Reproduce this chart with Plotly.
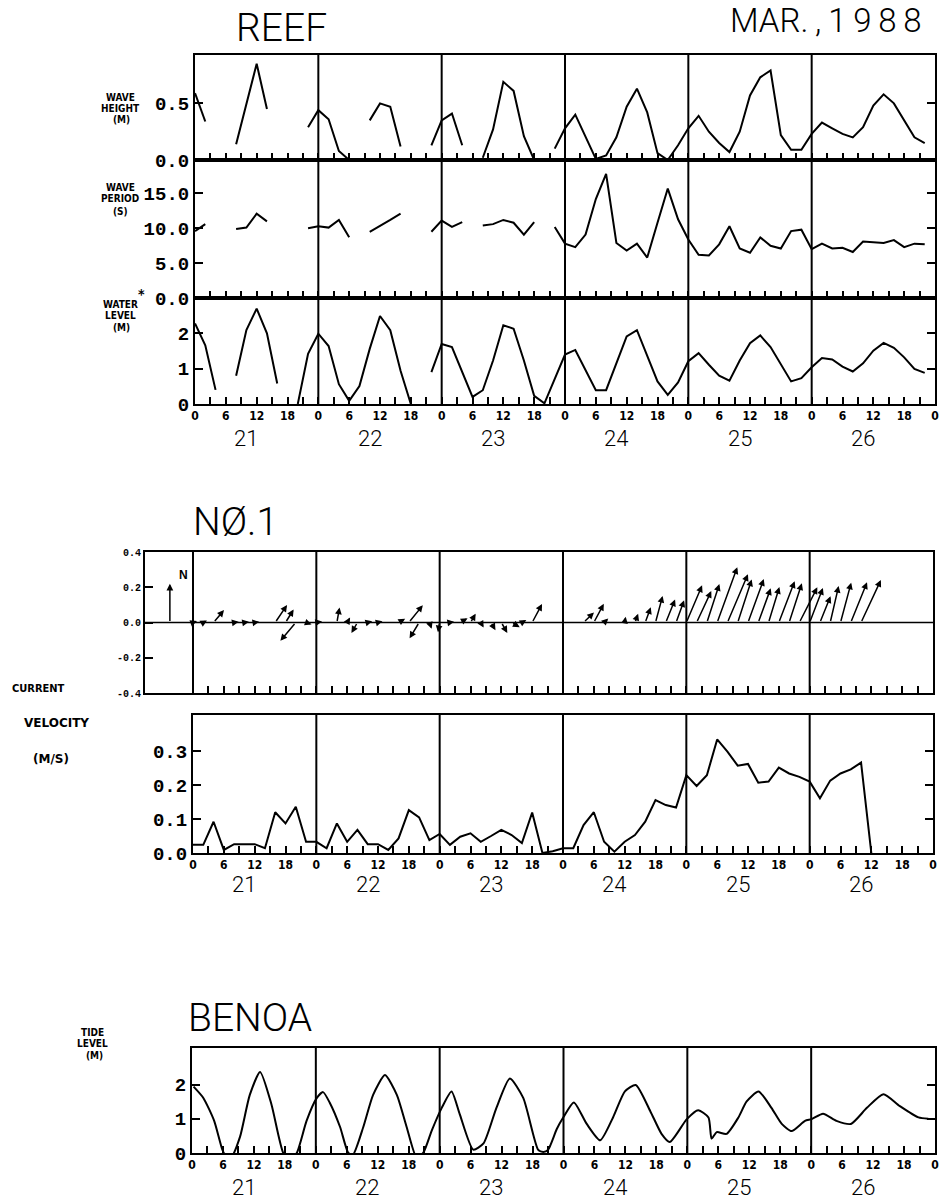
import math
import plotly.graph_objects as go

W, H = 942, 1202

# ---------------- data ----------------
hours = list(range(0, 144, 2))  # 2-hourly, 0..142 h from 21 Mar 00h

wave_height = [0.59, 0.34, None, None, 0.14, 0.50, 0.85, 0.45, None, None, None, 0.29,
               0.44, 0.36, 0.08, 0.00, None, 0.35, 0.50, 0.47, 0.12, None, None, 0.13,
               0.35, 0.41, 0.13, None, 0.02, 0.27, 0.69, 0.61, 0.21, 0.00, None, 0.10,
               0.28, 0.40, 0.20, 0.01, 0.04, 0.20, 0.47, 0.63, 0.42, 0.06, 0.00, 0.13,
               0.28, 0.39, 0.25, 0.15, 0.07, 0.25, 0.57, 0.73, 0.79, 0.22, 0.09, 0.09,
               0.23, 0.33, 0.28, 0.23, 0.20, 0.29, 0.48, 0.58, 0.50, 0.35, 0.20, 0.15]

wave_period = [9.6, 10.6, None, None, 9.9, 10.1, 12.1, 11.0, None, None, None, 10.0,
               10.3, 10.1, 11.2, 8.7, None, 9.5, 10.3, 11.2, 12.1, None, None, 9.5,
               11.1, 10.2, 10.9, None, 10.4, 10.6, 11.2, 10.8, 9.1, 10.9, None, 10.2,
               7.8, 7.3, 9.1, 14.2, 17.8, 7.9, 6.8, 7.8, 5.8, 10.8, 15.7, 11.3,
               8.4, 6.2, 6.1, 7.7, 10.3, 7.1, 6.5, 8.7, 7.5, 7.1, 9.6, 9.8,
               7.0, 7.8, 7.1, 7.2, 6.6, 8.1, 8.0, 7.9, 8.3, 7.3, 7.8, 7.7]

water_level = [2.28, 1.66, 0.40, None, 0.80, 2.09, 2.70, 2.00, 0.58, None, 0.00, 1.42,
               1.99, 1.64, 0.56, 0.09, 0.51, 1.56, 2.49, 2.09, 0.94, 0.00, None, 0.90,
               1.70, 1.61, 0.90, 0.20, 0.39, 1.23, 2.23, 2.13, 1.23, 0.23, 0.02, 0.70,
               1.40, 1.53, 0.94, 0.39, 0.39, 1.18, 1.91, 2.09, 1.37, 0.64, 0.26, 0.61,
               1.21, 1.44, 1.11, 0.80, 0.66, 1.23, 1.72, 1.94, 1.61, 1.13, 0.64, 0.73,
               1.04, 1.30, 1.26, 1.06, 0.92, 1.15, 1.51, 1.73, 1.59, 1.32, 0.99, 0.88]

cur_hours = list(range(0, 134, 2))  # 0..132 h
cur_speed = [0.024, 0.024, 0.092, 0.009, 0.026, 0.026, 0.026, 0.014, 0.120, 0.087, 0.136, 0.033,
             0.033, 0.014, 0.087, 0.033, 0.068, 0.026, 0.026, 0.009, 0.043, 0.126, 0.105, 0.038,
             0.056, 0.024, 0.048, 0.058, 0.033, 0.050, 0.068, 0.053, 0.029, 0.119, 0.000, 0.005,
             0.014, 0.014, 0.082, 0.120, 0.033, 0.004, 0.033, 0.053, 0.092, 0.156, 0.141, 0.134,
             0.229, 0.197, 0.229, 0.334, 0.298, 0.257, 0.262, 0.207, 0.210, 0.251, 0.234, 0.224,
             0.210, 0.161, 0.213, 0.234, 0.246, 0.266, 0.000]
# direction the current flows toward, degrees clockwise from north
cur_dir = [70, 60, 40, 90, 80, 80, 80, 80, 34, 32, 220, 110,
           80, 60, 10, 30, 210, 75, 75, 75, 60, 39, 211, 160,
           190, 80, 60, 30, 150, 150, 150, 120, 60, 28, 0, 0,
           200, 45, 46, 28, 45, 150, 10, 20, 20, 15, 22, 20,
           23, 25, 18, 20, 23, 18, 20, 20, 17, 21, 18, 27,
           21, 22, 13, 15, 22, 25, 0]

tide_hours = [0.3, 2.2, 4.3, 5.9, 6.7, 7.7, 9.3, 11.2, 13.2, 15.4, 17.7, 19.0, 20.3, 22.2,
              24.2, 25.4, 26.7, 28.7, 30.3, 31.2, 33.2, 35.1, 37.4, 39.7, 41.6, 43.5, 44.8, 46.5,
              48.4, 50.3, 51.9, 54.5, 56.5, 59.0, 61.6, 64.2, 67.1, 68.1, 69.0, 70.7,
              72.0, 74.0, 76.5, 79.1, 81.6, 83.9, 86.0, 88.8, 91.0, 92.6, 95.9,
              98.1, 100.1, 100.7, 101.7, 103.6, 105.9, 107.5, 109.8, 112.3, 114.3, 116.2, 118.8,
              120.1, 122.3, 124.9, 127.7, 130.8, 134.0, 137.2, 140.8, 142.7]
tide_level = [1.94, 1.61, 0.94, 0.09, -0.12, -0.10, 0.47, 1.70, 2.37, 1.42, 0.00, -0.18, 0.00, 0.94,
              1.61, 1.78, 1.47, 0.76, 0.00, -0.05, 0.76, 1.70, 2.28, 1.70, 0.76, -0.12, 0.00, 0.67,
              1.32, 1.80, 1.13, 0.10, 0.28, 1.32, 2.18, 1.61, 0.09, 0.03, 0.09, 0.70,
              1.05, 1.48, 0.85, 0.37, 1.04, 1.80, 1.99, 1.23, 0.56, 0.32, 0.99,
              1.25, 1.04, 0.42, 0.61, 0.56, 1.04, 1.51, 1.80, 1.32, 0.85, 0.64, 0.94,
              0.99, 1.15, 0.94, 0.85, 1.32, 1.72, 1.37, 1.04, 1.00]

day_names = ["21", "22", "23", "24", "25", "26"]
day_starts = [0, 24, 48, 72, 96, 120]

# ---------------- layout helpers ----------------
def xd(a, b):
    return [a / W, b / W]

def yd(top, bot):
    return [1 - bot / H, 1 - top / H]

TICKFONT_X = dict(family="DejaVu Sans Condensed", size=12, color="black", weight="bold")
MONO = "Liberation Mono"
LIGHT = "Roboto"

tick_vals = list(range(0, 145, 3))
tick_text = [str(h % 24) if h % 6 == 0 else "" for h in tick_vals]


def xaxis(dom, anchor, labels, rng=(0, 144)):
    return dict(domain=dom, anchor=anchor, range=list(rng), showline=True, linecolor="black",
                linewidth=2, mirror=True, showgrid=False, zeroline=False, ticks="inside",
                ticklen=7, tickwidth=1.5, tickcolor="black", tickmode="array",
                tickvals=tick_vals, ticktext=tick_text, showticklabels=labels,
                tickfont=TICKFONT_X, tickangle=0, fixedrange=True)


def yaxis(dom, anchor, rng, vals, texts, size, mirror="ticks"):
    return dict(domain=dom, anchor=anchor, range=rng, showline=True, linecolor="black",
                linewidth=2, mirror=mirror, showgrid=False, zeroline=False, ticks="inside",
                ticklen=8, tickwidth=1.5, tickcolor="black", tickmode="array",
                tickvals=vals, ticktext=texts,
                tickfont=dict(family=MONO, size=size, color="black", weight="bold"),
                fixedrange=True)


fig = go.Figure()


def add_line(x, y, xa, ya, shape="linear"):
    fig.add_trace(go.Scatter(x=x, y=y, xaxis=xa, yaxis=ya, mode="lines",
                             line=dict(color="black", width=2, shape=shape, smoothing=0.6),
                             connectgaps=False, showlegend=False, hoverinfo="skip"))


add_line(hours, wave_height, "x", "y")
add_line(hours, wave_period, "x2", "y2")
add_line(hours, water_level, "x3", "y3")
add_line(cur_hours, cur_speed, "x5", "y5")
add_line(tide_hours, tide_level, "x6", "y6", shape="spline")

# vector panel geometry
VX = (145, 933)
VY = (552, 693)
VRX = (-(193 - 145) / ((933 - 193) / 144), 144)
VRY = (-0.4, 0.4)

fig.update_layout(
    width=W, height=H, margin=dict(l=0, r=0, t=0, b=0, autoexpand=False),
    paper_bgcolor="white", plot_bgcolor="white", showlegend=False,
    xaxis=xaxis(xd(195, 935), "y", False),
    yaxis=yaxis(yd(55, 160), "x", [0, 0.927], [0, 0.5], ["0.0", "0.5"], 19),
    xaxis2=xaxis(xd(195, 935), "y2", False),
    yaxis2=yaxis(yd(160, 298), "x2", [0, 19.8], [0, 5, 10, 15], ["0.0", "5.0", "10.0", "15.0"], 19),
    xaxis3=xaxis(xd(195, 935), "y3", True),
    yaxis3=yaxis(yd(298, 404), "x3", [0, 3.0], [0, 1, 2], ["0", "1", "2"], 19),
    xaxis4=xaxis(xd(*VX), "y4", False, VRX),
    yaxis4=yaxis(yd(*VY), "x4", list(VRY), [-0.4, -0.2, 0, 0.2, 0.4],
                 ["-0.4", "-0.2", "0.0", "0.2", "0.4"], 10, mirror=True),
    xaxis5=xaxis(xd(193, 933), "y5", True),
    yaxis5=yaxis(yd(715, 853), "x5", [0, 0.406], [0, 0.1, 0.2, 0.3], ["0.0", "0.1", "0.2", "0.3"], 19),
    xaxis6=xaxis(xd(192, 935), "y6", True),
    yaxis6=yaxis(yd(1048, 1153), "x6", [0, 3.07], [0, 1, 2], ["0", "1", "2"], 19),
)
fig.layout.xaxis4.tickvals = [v for v in tick_vals if v > 0]
fig.layout.xaxis4.ticktext = ["" for v in tick_vals if v > 0]

# day separator lines
for xa, ya in [("x", "y"), ("x2", "y2"), ("x3", "y3"), ("x4", "y4"), ("x5", "y5"), ("x6", "y6")]:
    starts = day_starts[1:] if xa != "x4" else day_starts
    for d in starts:
        fig.add_shape(type="line", xref=xa, yref=f"{ya} domain", x0=d, x1=d, y0=0, y1=1,
                      line=dict(color="black", width=2))

# zero line of vector panel
fig.add_shape(type="line", xref="x4 domain", yref="y4", x0=0, x1=1, y0=0, y1=0,
              line=dict(color="black", width=1.5))

# current vectors (stick plot, same scale on both directions)
px_per_ms = (VY[1] - VY[0]) / (VRY[1] - VRY[0])
px_per_h = (VX[1] - VX[0]) / (VRX[1] - VRX[0])
k = px_per_ms / px_per_h
for t, s, d in zip(cur_hours, cur_speed, cur_dir):
    if s <= 0:
        continue
    u = s * math.sin(math.radians(d))
    v = s * math.cos(math.radians(d))
    fig.add_annotation(x=t + u * k, y=v, ax=t, ay=0, xref="x4", yref="y4", axref="x4", ayref="y4",
                       text="", showarrow=True, arrowhead=2, arrowsize=0.9, arrowwidth=1.5,
                       arrowcolor="black", standoff=0, startstandoff=0)

# north reference arrow
fig.add_annotation(x=-4.5, y=0.22, ax=-4.5, ay=0, xref="x4", yref="y4", axref="x4", ayref="y4",
                   text="", showarrow=True, arrowhead=2, arrowsize=0.9, arrowwidth=1.5,
                   arrowcolor="black", standoff=0)


def txt(s, px, py, size, family, weight="normal", xanchor="center"):
    fig.add_annotation(text=s, x=px / W, y=1 - py / H, xref="paper", yref="paper",
                       showarrow=False, xanchor=xanchor, yanchor="middle",
                       font=dict(family=family, size=size, color="black", weight=weight))


txt("N", 183, 575, 12, "Liberation Sans", "bold")

# titles
txt("REEF", 281, 28, 39, LIGHT, 300)
txt("MAR.\u2009,\u20091\u20099\u20098\u20098", 826, 21, 33, LIGHT, 300)
txt("N\u00d8.1", 235, 522, 39, LIGHT, 300)
txt("BENOA", 250, 1018, 39, LIGHT, 300)

# day labels
for name, d in zip(day_names, day_starts):
    for xa, py in [("x3", 438), ("x5", 884), ("x6", 1187)]:
        fig.add_annotation(text=name, x=d + 10, y=1 - py / H, xref=xa, yref="paper",
                           showarrow=False, xanchor="center", yanchor="middle",
                           font=dict(family=LIGHT, size=22, color="black", weight=300))

# axis titles (left)
LAB = "DejaVu Sans Condensed"
for s, px, py in [("WAVE", 120, 97), ("HEIGHT", 120, 108), ("(M)", 121, 119),
                  ("WAVE", 120, 188), ("PERIOD", 120, 199), ("(S)", 120, 211),
                  ("WATER", 120, 304), ("LEVEL", 120, 315), ("(M)", 121, 327),
                  ("TIDE", 92, 1032), ("LEVEL", 92, 1043), ("(M)", 94, 1055)]:
    txt(s, px, py, 10, LAB, "bold")
txt("*", 141, 294, 14, LAB, "bold")
txt("CURRENT", 38, 688, 11, LAB, "bold")
txt("VELOCITY", 56, 723, 12, "DejaVu Sans", "bold")
txt("(M/S)", 51, 759, 12, "DejaVu Sans", "bold")

fig.write_html("out.html")
